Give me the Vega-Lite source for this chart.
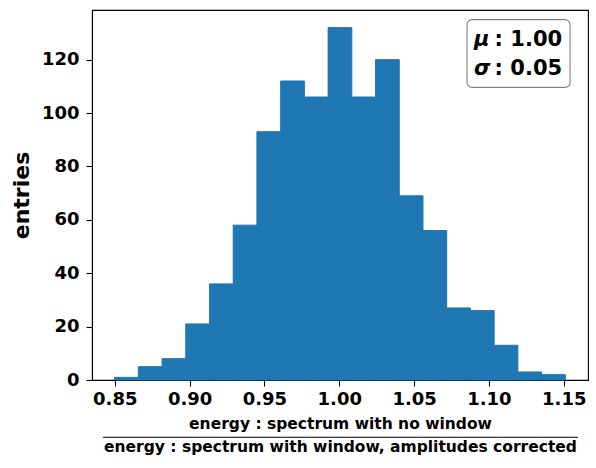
{
  "$schema": "https://vega.github.io/schema/vega-lite/v6.json",
  "width": 496,
  "height": 370,
  "padding": {"left": 10, "top": 10, "right": 5, "bottom": 5},
  "config": {
    "font": "DejaVu Sans",
    "view": {"stroke": "black", "strokeWidth": 1.1},
    "axis": {
      "grid": false,
      "domainColor": "black",
      "domainWidth": 1.1,
      "tickColor": "black",
      "tickWidth": 1.1,
      "tickSize": 6,
      "labelColor": "black",
      "labelFont": "DejaVu Sans",
      "labelFontWeight": "bold",
      "labelFontSize": 18,
      "titleColor": "black",
      "titleFont": "DejaVu Sans",
      "titleFontWeight": "bold"
    }
  },
  "layer": [
    {
      "data": {
        "values": [
          {"lo": 0.8499, "hi": 0.86575, "count": 1},
          {"lo": 0.86575, "hi": 0.8816, "count": 5},
          {"lo": 0.8816, "hi": 0.89745, "count": 8},
          {"lo": 0.89745, "hi": 0.9133, "count": 21},
          {"lo": 0.9133, "hi": 0.92915, "count": 36},
          {"lo": 0.92915, "hi": 0.945, "count": 58},
          {"lo": 0.945, "hi": 0.96085, "count": 93},
          {"lo": 0.96085, "hi": 0.9767, "count": 112},
          {"lo": 0.9767, "hi": 0.99255, "count": 106},
          {"lo": 0.99255, "hi": 1.0084, "count": 132},
          {"lo": 1.0084, "hi": 1.02425, "count": 106},
          {"lo": 1.02425, "hi": 1.0401, "count": 120},
          {"lo": 1.0401, "hi": 1.05595, "count": 69},
          {"lo": 1.05595, "hi": 1.0718, "count": 56},
          {"lo": 1.0718, "hi": 1.08765, "count": 27},
          {"lo": 1.08765, "hi": 1.1035, "count": 26},
          {"lo": 1.1035, "hi": 1.11935, "count": 13},
          {"lo": 1.11935, "hi": 1.1352, "count": 3},
          {"lo": 1.1352, "hi": 1.15105, "count": 2}
        ]
      },
      "mark": {"type": "bar", "color": "#1f77b4", "stroke": "#1f77b4", "strokeWidth": 1, "binSpacing": 0},
      "encoding": {
        "x": {
          "field": "lo",
          "type": "quantitative",
          "scale": {"domain": [0.8348, 1.1662], "nice": false, "zero": false},
          "axis": {
            "values": [0.85, 0.9, 0.95, 1.0, 1.05, 1.1, 1.15],
            "format": ".2f",
            "labelPadding": 4,
            "titleFontSize": 15.5,
            "titleLineHeight": 23.4,
            "titlePadding": 8
          },
          "title": ["energy :  spectrum with no window", "energy : spectrum with window,  amplitudes corrected"]
        },
        "x2": {"field": "hi"},
        "y": {
          "field": "count",
          "type": "quantitative",
          "scale": {"domain": [0, 138.6], "nice": false},
          "axis": {
            "values": [0, 20, 40, 60, 80, 100, 120],
            "labelPadding": 7,
            "titleFontSize": 22,
            "titlePadding": 8
          },
          "title": "entries"
        },
        "y2": {"datum": 0}
      }
    },
    {
      "data": {"values": [{"mu": ": 1.00", "sigma": ": 0.05"}]},
      "layer": [
        {
          "mark": {"type": "rect", "fill": "white", "stroke": "#808080", "strokeWidth": 1.1, "cornerRadius": 5},
          "encoding": {
            "x": {"datum": 1.0854, "type": "quantitative"},
            "x2": {"datum": 1.1542},
            "y": {"datum": 135.0, "type": "quantitative"},
            "y2": {"datum": 109.6}
          }
        },
        {
          "mark": {"type": "text", "text": "μ", "font": "DejaVu Sans", "fontSize": 21, "fontWeight": "bold", "fontStyle": "italic", "align": "left", "baseline": "alphabetic", "color": "black"},
          "encoding": {
            "x": {"datum": 1.09, "type": "quantitative"},
            "y": {"datum": 125.1, "type": "quantitative"}
          }
        },
        {
          "mark": {"type": "text", "font": "DejaVu Sans", "fontSize": 21, "fontWeight": "bold", "align": "left", "baseline": "alphabetic", "color": "black"},
          "encoding": {
            "x": {"datum": 1.1038, "type": "quantitative"},
            "y": {"datum": 125.1, "type": "quantitative"},
            "text": {"field": "mu", "type": "nominal"}
          }
        },
        {
          "mark": {"type": "text", "text": "σ", "font": "DejaVu Sans", "fontSize": 21, "fontWeight": "bold", "fontStyle": "italic", "align": "left", "baseline": "alphabetic", "color": "black"},
          "encoding": {
            "x": {"datum": 1.09, "type": "quantitative"},
            "y": {"datum": 114.1, "type": "quantitative"}
          }
        },
        {
          "mark": {"type": "text", "font": "DejaVu Sans", "fontSize": 21, "fontWeight": "bold", "align": "left", "baseline": "alphabetic", "color": "black"},
          "encoding": {
            "x": {"datum": 1.1038, "type": "quantitative"},
            "y": {"datum": 114.1, "type": "quantitative"},
            "text": {"field": "sigma", "type": "nominal"}
          }
        },
        {
          "mark": {"type": "rule", "color": "black", "strokeWidth": 1.1, "clip": false},
          "encoding": {
            "x": {"datum": 0.8421, "type": "quantitative"},
            "x2": {"datum": 1.1595},
            "y": {"datum": -21.46, "type": "quantitative"}
          }
        }
      ]
    }
  ]
}
